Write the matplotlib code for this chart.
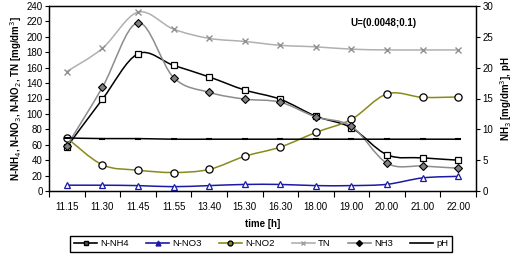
import numpy as np
import matplotlib
matplotlib.use("Agg")
import matplotlib.pyplot as plt
from matplotlib.path import Path
from matplotlib.patches import PathPatch
from matplotlib.lines import Line2D

plt.rcParams['font.family'] = ['Liberation Sans', 'DejaVu Sans']

categories = ["11.15", "11.30", "11.45", "11.55", "13.40", "15.30", "16.30",
              "18.00", "19.00", "20.00", "21.00", "22.00"]
n_nh4 = [57, 119, 178, 163, 148, 131, 119, 97, 82, 47, 43, 40]
n_no3 = [7.5, 7.5, 7, 5.6, 7, 8.5, 8.5, 7, 7, 8.7, 17, 19]
n_no2 = [69, 34, 27, 24, 28, 45, 57, 76, 93, 126, 121.5, 122]
tn = [155, 185, 232, 210, 198, 194, 189, 187, 184, 183, 183, 183]
nh3 = [7.3, 16.8, 27.3, 18.4, 16.0, 14.9, 14.4, 12.0, 10.5, 4.5, 4.05, 3.7]
ph = [8.6, 8.5, 8.5, 8.4, 8.4, 8.4, 8.4, 8.4, 8.4, 8.4, 8.4, 8.4]
annotation = "U=(0.0048;0.1)"

x = np.arange(len(categories))


def smooth_path(xs, ys, k=1/6):
    xs = np.asarray(xs, float); ys = np.asarray(ys, float)
    pts = np.column_stack([xs, ys])
    verts = [pts[0]]
    codes = [Path.MOVETO]
    n = len(pts)
    for i in range(n - 1):
        p0 = pts[i - 1] if i > 0 else pts[i]
        p1 = pts[i]
        p2 = pts[i + 1]
        p3 = pts[i + 2] if i + 2 < n else pts[i + 1]
        c1 = p1 + (p2 - p0) * k
        c2 = p2 - (p3 - p1) * k
        verts += [c1, c2, p2]
        codes += [Path.CURVE4] * 3
    return Path(verts, codes)


fig = plt.figure(figsize=(5.17, 2.56), dpi=100)
ax = fig.add_axes([49/517, 1 - 191/256, (476 - 49)/517, (191 - 6)/256])
ax2 = ax.twinx()

series_left = [
    (n_nh4, 'black', dict(marker='s', ms=4.6, mfc='white', mec='black', mew=0.9), 'N-NH4'),
    (n_no3, '#1a1aa6', dict(marker='^', ms=5, mfc='white', mec='#1a1aa6', mew=0.9), 'N-NO3'),
    (n_no2, '#8a8a1a', dict(marker='o', ms=5.2, mfc='white', mec='black', mew=0.9), 'N-NO2'),
    (tn, '#b0b0b0', dict(marker='x', ms=4.3, mec='#909090', mew=1.0), 'TN'),
]
series_right = [
    (nh3, '#8c8c8c', dict(marker='D', ms=3.6, mfc='#808080', mec='black', mew=0.8), 'NH3'),
    (ph, 'black', dict(marker='_', ms=4, mec='black', mew=1.5), 'pH'),
]

for ys, col, mk, lab in series_left:
    ax.add_patch(PathPatch(smooth_path(x, ys), fill=False, edgecolor=col, lw=1.1, zorder=2))
    ax.plot(x, ys, linestyle='none', zorder=3, **mk)
for ys, col, mk, lab in series_right:
    ax2.add_patch(PathPatch(smooth_path(x, ys), fill=False, edgecolor=col, lw=1.1, zorder=2))
    ax2.plot(x, ys, linestyle='none', zorder=3, **mk)

leg_styles = [
    ('black', dict(marker='s', ms=3.5, mfc='#555555', mec='black')),
    ('#1a1aa6', dict(marker='^', ms=3.5, mfc='#1a1aa6', mec='#1a1aa6')),
    ('#8a8a1a', dict(marker='o', ms=3.5, mfc='#8a8a1a', mec='black')),
    ('#b0b0b0', dict(marker='x', ms=3.5, mec='#a0a0a0')),
    ('#8c8c8c', dict(marker='D', ms=3, mfc='black', mec='black')),
    ('black', dict(marker='None')),
]
labels = [s[3] for s in series_left] + [s[3] for s in series_right]
handles = []
for (col, mk), lab in zip(leg_styles, labels):
    handles.append(Line2D([], [], color=col, lw=1.2, label=lab, **mk))

ax.set_xlim(-0.5, len(categories) - 0.5)
ax.set_ylim(0, 240)
ax2.set_ylim(0, 30)
ax.set_yticks(np.arange(0, 241, 20))
ax2.set_yticks(np.arange(0, 31, 5))
ax.set_xticks(np.arange(-0.5, len(categories), 1))
ax.set_xticklabels([])
ax.set_xticks(x, minor=True)
ax.set_xticklabels(categories, minor=True)
ax.tick_params(axis='x', which='minor', length=0, labelsize=7, pad=8)
ax.tick_params(axis='x', which='major', length=4, direction='out', width=0.8)
ax.tick_params(axis='y', labelsize=7, length=3, direction='out', pad=1.5)
ax2.tick_params(axis='y', labelsize=7, length=3, direction='out', pad=1.5)

for a in (ax, ax2):
    for sp in a.spines.values():
        sp.set_linewidth(0.9)

ax.set_xlabel('time [h]', fontsize=7, fontweight='bold', labelpad=5)
ax.set_ylabel('N-NH$_4$, N-NO$_3$, N-NO$_2$, TN [mg/dm$^3$]', fontsize=7,
              fontweight='bold', labelpad=2)
ax2.set_ylabel('NH$_3$ [mg/dm$^3$], pH', fontsize=7, fontweight='bold', labelpad=4)

ax.text(0.86, 0.91, annotation, transform=ax.transAxes, fontsize=7,
        fontweight='bold', ha='right', va='center')

fig.legend(handles=handles, loc='center', bbox_to_anchor=(261/517, 1 - 244/256),
           ncol=6, fontsize=6.8, frameon=True, fancybox=False, edgecolor='black',
           handlelength=2.5, handletextpad=0.3, columnspacing=1.8,
           borderpad=0.35, framealpha=1)

fig.savefig('out.png', dpi=100)
